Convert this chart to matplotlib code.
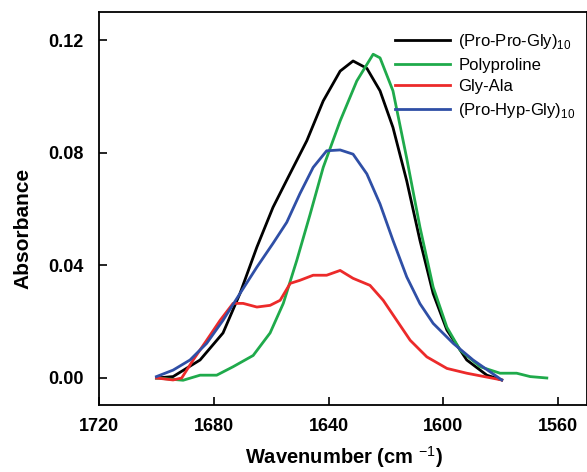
import matplotlib
matplotlib.use('Agg')
import matplotlib.pyplot as plt

plt.rcParams['font.family'] = 'Liberation Sans'
plt.rcParams['mathtext.fontset'] = 'custom'
plt.rcParams['mathtext.rm'] = 'Liberation Sans'
plt.rcParams['mathtext.bf'] = 'Liberation Sans:bold'

# (Pro-Pro-Gly)10
ppg_w = [1700, 1694.2, 1684.8, 1676.8, 1670.9, 1665, 1659.4, 1654.1, 1647.6, 1641.9, 1636, 1631.5,
         1626.7, 1622.1, 1617.6, 1612.8, 1608.2, 1603.6, 1598.8, 1591.9, 1584.9, 1579.7]
ppg_a = [0.0, 0.0005, 0.0064, 0.016, 0.030, 0.0465, 0.0606, 0.0713, 0.0843, 0.0984, 0.109, 0.1126,
         0.110, 0.102, 0.089, 0.070, 0.0489, 0.030, 0.017, 0.0064, 0.001, -0.0007]

# Polyproline
pp_w = [1700, 1690.7, 1684.8, 1679, 1673.3, 1666.3, 1660.4, 1655.8, 1651.1, 1646.5, 1641.9, 1636,
        1630.2, 1624.5, 1622.1, 1617.6, 1612.8, 1608.2, 1603.6, 1598.8, 1594.2, 1587.2, 1580.3,
        1574.5, 1569.8, 1564]
pp_a = [0.0, -0.0008, 0.001, 0.001, 0.004, 0.008, 0.016, 0.0265, 0.0418, 0.058, 0.0748, 0.0913,
        0.1055, 0.115, 0.1137, 0.102, 0.078, 0.0536, 0.0323, 0.018, 0.0099, 0.004, 0.0017,
        0.0017, 0.0005, 0.0]

# Gly-Ala
ga_w = [1700, 1694.2, 1691.2, 1687.2, 1682.5, 1677.8, 1673.3, 1669.8, 1665, 1660.4, 1656.9, 1653.4,
        1650, 1645.4, 1640.7, 1636, 1631.5, 1625.6, 1621, 1616.3, 1611.6, 1605.8, 1598.8, 1591.9,
        1579.7]
ga_a = [0.0, -0.0007, 0.0, 0.0064, 0.0134, 0.0205, 0.0265, 0.0265, 0.0252, 0.0258, 0.0276, 0.0336,
        0.0347, 0.0365, 0.0365, 0.0382, 0.0354, 0.0329, 0.0276, 0.0205, 0.0134, 0.0075, 0.0034,
        0.0017, -0.0007]

# (Pro-Hyp-Gly)10
phg_w = [1700, 1694.2, 1688.3, 1682.5, 1676.8, 1670.9, 1665, 1659.4, 1654.6, 1650, 1645.4, 1640.7,
         1636, 1631.5, 1626.7, 1622.1, 1617.6, 1612.8, 1608.2, 1603.6, 1596.6, 1589.7, 1579.7]
phg_a = [0.0005, 0.0028, 0.0064, 0.0123, 0.0205, 0.030, 0.0394, 0.0478, 0.0553, 0.0655, 0.0748,
         0.0807, 0.081, 0.0795, 0.0725, 0.0618, 0.0489, 0.0359, 0.0264, 0.0194, 0.0123, 0.0064,
         -0.0007]

fig = plt.figure(figsize=(5.87, 4.72), dpi=100)
ax = fig.add_axes([0.1687, 0.1419, 0.8313, 0.8327])

lw = 2.0
ax.plot(ppg_w, ppg_a, color='black', lw=lw, solid_joinstyle='round', label=r'(Pro-Pro-Gly)$_{10}$')
ax.plot(pp_w, pp_a, color='#1faa4b', lw=lw, solid_joinstyle='round', label='Polyproline')
ax.plot(ga_w, ga_a, color='#ec2a2a', lw=lw, solid_joinstyle='round', label='Gly-Ala')
ax.plot(phg_w, phg_a, color='#2f4fa6', lw=lw, solid_joinstyle='round', label=r'(Pro-Hyp-Gly)$_{10}$')

ax.set_xlim(1720, 1550)
ax.set_ylim(-0.0096, 0.13)
ax.set_xticks([1720, 1680, 1640, 1600, 1560])
ax.set_yticks([0.0, 0.04, 0.08, 0.12])
ax.set_yticklabels(['0.00', '0.04', '0.08', '0.12'])
ax.tick_params(direction='in', length=6, width=1.2, labelsize=13)
ax.tick_params(axis='y', pad=11)
ax.tick_params(axis='x', pad=9)
for lab in ax.get_xticklabels() + ax.get_yticklabels():
    lab.set_fontweight('bold')
for sp in ax.spines.values():
    sp.set_linewidth(1.3)

ax.set_xlabel(r'Wavenumber (cm $^{-1}$)', fontsize=14.5, fontweight='bold', va='center')
ax.set_ylabel('Absorbance', fontsize=15, fontweight='bold', va='center')
# put the axis labels where the reference has them (figure fractions)
ax.xaxis.set_label_coords(344 / 587, 1 - 457 / 472, transform=fig.transFigure)
ax.yaxis.set_label_coords(23 / 587, 1 - 228 / 472, transform=fig.transFigure)

ax.legend(loc='upper left', bbox_to_anchor=(395 / 587, 1 - 32 / 472), bbox_transform=fig.transFigure,
          frameon=False, fontsize=12, handlelength=3.3, handletextpad=0.5, labelspacing=0.4,
          borderpad=0, borderaxespad=0)

fig.savefig('out.png', dpi=100)
